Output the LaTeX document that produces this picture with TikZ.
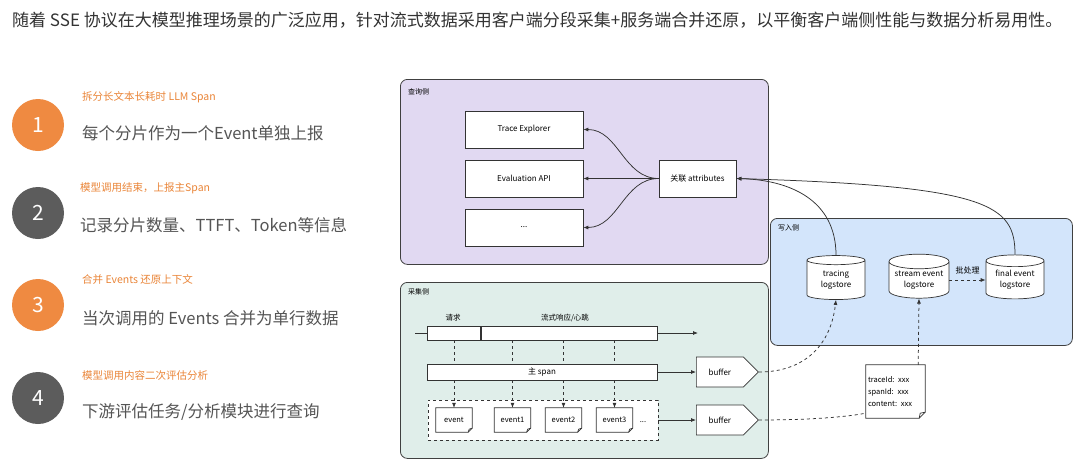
\documentclass[tikz,border=0pt]{standalone}
\usepackage{fontspec}
\setmainfont{Noto Sans CJK SC}
\usetikzlibrary{arrows.meta,shapes.geometric,shapes.symbols,positioning}

\definecolor{stepOrange}{HTML}{EF8A41}
\definecolor{stepGray}{HTML}{5C5C5C}
\definecolor{tipOrange}{HTML}{EA8538}
\definecolor{bodyGray}{HTML}{555555}
\definecolor{queryFill}{HTML}{E1D9F2}
\definecolor{writeFill}{HTML}{D3E5FB}
\definecolor{collectFill}{HTML}{E0EEEA}

\begin{document}
\begin{tikzpicture}[x=1pt,y=1pt,
    panel/.style={draw=black!75, line width=0.8pt, rounded corners=7pt, anchor=north west, inner sep=0pt},
    panellabel/.style={anchor=west, inner sep=0pt, font=\fontsize{7}{8}\selectfont},
    stepdot/.style={circle, minimum size=52, inner sep=0pt, text=white, font=\fontsize{21}{24}\selectfont},
    steptip/.style={anchor=west, inner sep=0pt, text=tipOrange, font=\fontsize{10.5}{12}\selectfont},
    stepbody/.style={anchor=west, inner sep=0pt, text=bodyGray, font=\fontsize{16.5}{19}\selectfont},
    box/.style={draw=black!80, fill=white, line width=0.7pt, minimum width=118, minimum height=37, inner sep=0pt, font=\fontsize{8}{9}\selectfont},
    db/.style={cylinder, shape border rotate=90, aspect=0.3, draw=black!80, fill=white, line width=0.7pt, minimum width=58, minimum height=44, inner sep=0pt, align=center, font=\fontsize{8}{11}\selectfont},
    bar/.style={draw=black!80, fill=white, line width=0.7pt, minimum height=14, inner sep=0pt},
    buf/.style={signal, signal to=east, signal pointer angle=90, draw=black!80, fill=white, line width=0.7pt, minimum width=62, minimum height=30, inner sep=0pt, anchor=west, font=\fontsize{8}{9}\selectfont},
    doc/.style={fill=white, minimum width=36, minimum height=24, inner sep=0pt, font=\fontsize{7.5}{9}\selectfont},
    docline/.style={draw=black!80, line width=0.7pt},
    arr/.style={line width=0.75pt, draw=black!80, -{Latex[length=5pt,width=4pt]}},
    dasharr/.style={arr, dashed},
    small/.style={inner sep=0pt, font=\fontsize{7.5}{9}\selectfont}]

\useasboundingbox[fill=white] (0,0) rectangle (1080,-469);

% title
\node[anchor=west, inner sep=0pt, text=black!80, font=\fontsize{17}{20}\selectfont] (title) at (12,-20)
  {随着 SSE 协议在大模型推理场景的广泛应用，针对流式数据采用客户端分段采集+服务端合并还原，以平衡客户端侧性能与数据分析易用性。};

% steps on the left
\node[stepdot, fill=stepOrange] (s1) at (38,-125) {1};
\node[stepdot, fill=stepGray]   (s2) at (38,-213) {2};
\node[stepdot, fill=stepOrange] (s3) at (38,-305) {3};
\node[stepdot, fill=stepGray]   (s4) at (38,-398) {4};

\node[steptip]  (t1) at (82,-97)  {拆分长文本长耗时 LLM Span};
\node[stepbody] (b1) at (82,-133) {每个分片作为一个Event单独上报};
\node[steptip]  (t2) at (80,-188) {模型调用结束，上报主Span};
\node[stepbody] (b2) at (80,-225) {记录分片数量、TTFT、Token等信息};
\node[steptip]  (t3) at (82,-280) {合并 Events 还原上下文};
\node[stepbody] (b3) at (82,-318) {当次调用的 Events 合并为单行数据};
\node[steptip]  (t4) at (82,-375) {模型调用内容二次评估分析};
\node[stepbody] (b4) at (82,-412) {下游评估任务/分析模块进行查询};

% panels
\node[panel, fill=queryFill, minimum width=368, minimum height=185] (query) at (400,-79) {};
\node[panel, fill=collectFill, minimum width=368, minimum height=176] (collect) at (400,-282) {};
\node[panel, fill=writeFill, minimum width=302, minimum height=127] (write) at (770,-218) {};
\node[panellabel] at (408,-92)  {查询侧};
\node[panellabel] at (408,-292) {采集侧};
\node[panellabel] at (778,-228) {写入侧};

% query side
\node[box] (explorer) at (524,-129.5) {Trace Explorer};
\node[box] (evalapi)  at (524,-178.5) {Evaluation API};
\node[box] (more)     at (524,-227.5) {...};
\node[box, minimum width=77] (attr) at (697.5,-178.5) {关联 attributes};

\draw[arr] (attr.west) to[out=180,in=0] (explorer.east);
\draw[arr] (attr.west) -- (evalapi.east);
\draw[arr] (attr.west) to[out=180,in=0] (more.east);

% write side
\node[db] (tracing) at (836,-280) {tracing\\logstore};
\node[db, minimum width=60] (stream) at (919,-280) {stream event\\logstore};
\node[db] (final) at (1015,-280) {final event\\logstore};

\draw[dasharr] (stream.east) -- (final.west) node[midway, above=5pt, small, font=\fontsize{8}{9}\selectfont] {批处理};
\draw[arr] (tracing.north) .. controls (836,-200) and (790,-180) .. (attr.east);
\draw[arr] (final.north) .. controls (1015,-205) and (990,-186) .. (attr.east);

% collect side
\coordinate (tl0) at (415,-333);
\coordinate (tl1) at (698,-333);
\draw[arr] (tl0) -- (tl1);
\node[bar, minimum width=53]  (req)  at (453.5,-333) {};
\node[bar, minimum width=176] (resp) at (569,-333) {};
\node[small] at (453,-318) {请求};
\node[small] at (565,-318) {流式响应/心跳};

\node[bar, minimum width=230, minimum height=16, font=\fontsize{8}{9}\selectfont] (span) at (542,-372) {主 span};

\node[draw=black!80, dashed, fill=white, line width=0.7pt, minimum width=230, minimum height=40] (group) at (543,-420) {};
\node[doc] (ev0) at (454,-420)   {event};
\node[doc] (ev1) at (512.5,-420) {event1};
\node[doc] (ev2) at (563.5,-420) {event2};
\node[doc] (ev3) at (614.5,-420) {event3};
\node[small] (evmore) at (643,-422) {...};

\foreach \e in {ev0,ev1,ev2,ev3}{
  \draw[docline] (\e.north west) -- (\e.north east) -- ([yshift=4]\e.south east)
    -- ([xshift=-4]\e.south east) -- (\e.south west) -- cycle;
  \draw[docline] ([yshift=4]\e.south east) -- ([xshift=-3,yshift=3]\e.south east) -- ([xshift=-4]\e.south east);
  \draw[dashed, line width=0.7pt, draw=black!80] (req.south -| \e.north) -- (\e.north |- span.north);
  \draw[dasharr, line width=0.7pt] (\e.north |- span.south) -- (\e.north);
}

\node[buf] (buf1) at (696,-372) {buffer};
\node[buf] (buf2) at (696,-420) {buffer};
\draw[arr] (span.east) -- (buf1.west);
\draw[arr] (group.east) -- (buf2.west);

% note
\node[fill=white, minimum width=59, minimum height=53, inner sep=2pt, text width=55, align=left,
      font=\fontsize{7.5}{12}\selectfont] (note) at (895.5,-391.5) {traceId: xxx\\spanId: xxx\\content: xxx};
\draw[docline] (note.north west) -- (note.north east) -- ([yshift=6]note.south east)
  -- ([xshift=-6]note.south east) -- (note.south west) -- cycle;
\draw[docline] ([yshift=6]note.south east) -- ([xshift=-5,yshift=5]note.south east) -- ([xshift=-6]note.south east);

\draw[dasharr] (buf1.east) .. controls (800,-372) and (830,-350) .. (tracing.south);
\draw[dashed, line width=0.75pt, draw=black!80] (buf2.east) .. controls (800,-420) and (840,-418) .. ([yshift=5]note.south west);
\draw[dasharr] ([xshift=-7]note.north east) -- (stream.south);

\end{tikzpicture}
\end{document}
